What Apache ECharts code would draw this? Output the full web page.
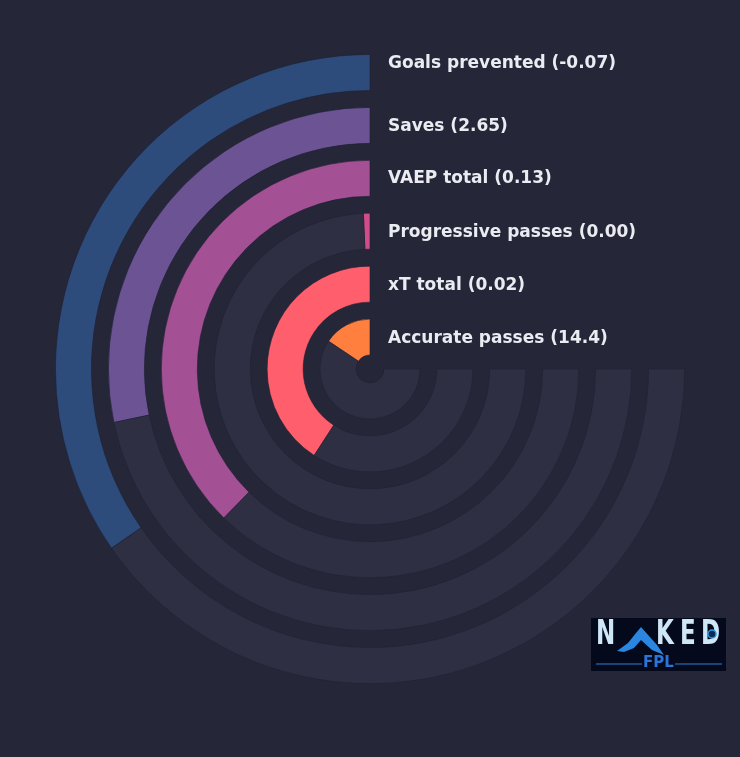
<!DOCTYPE html>
<html>
<head>
<meta charset="utf-8">
<script src="https://cdn.jsdelivr.net/npm/echarts@6/dist/echarts.min.js"></script>
<style>
html,body{margin:0;padding:0;background:#252638;}
#c{width:740px;height:757px;}
</style>
</head>
<body>
<div id="c"></div>
<script>
// categories from innermost ring to outermost ring
var categories = ['Accurate passes', 'xT total', 'Progressive passes', 'VAEP total', 'Saves', 'Goals prevented'];
var rawValues = ['14.4', '0.02', '0.00', '0.13', '2.65', '-0.07'];
// percentile-style ring fill (0-100, 100 = full 270° track)
var percentiles = [20.8, 54.5, 0.9, 50.2, 37.7, 46.2];
var colors = ['#ff7f3f', '#ff5f6d', '#d14d8a', '#a35095', '#6b5394', '#2d4c7c'];
var trackMax = 100;

var cx = 370, cy = 369;
var rInner = 5.5, rOuter = 323;
var band = (rOuter - rInner) / categories.length;
var labelOffsets = [1.5, 1.5, 1, 0.5, 1, -8.5];

var chart = echarts.init(document.getElementById('c'), null, {renderer: 'canvas'});

var filled = percentiles.map(function (v, i) {
  return {value: v, itemStyle: {color: colors[i]}};
});
var rest = percentiles.map(function (v) { return trackMax - v; });

var graphics = categories.map(function (c, i) {
  var rc = rInner + (i + 0.5) * band;
  return {
    type: 'text',
    x: 388,
    y: cy - rc + labelOffsets[i],
    style: {
      text: c + ' (' + rawValues[i] + ')',
      fill: '#ebebf2',
      font: 'bold 17px "DejaVu Sans", sans-serif',
      verticalAlign: 'middle',
      align: 'left'
    },
    z: 10
  };
});

// logo
var logoFont = 'bold 23px "DejaVu Sans", sans-serif';
graphics.push({
  type: 'rect', shape: {x: 591, y: 618, width: 135, height: 53},
  style: {fill: '#040a1c'}, z: 10
});
[['N', 596], ['K', 656], ['E', 680], ['D', 701]].forEach(function (l) {
  graphics.push({
    type: 'text', x: l[1], y: 619, scaleY: 1.45,
    style: {text: l[0], fill: '#cfe6f6', font: logoFont, verticalAlign: 'top'}, z: 11
  });
});
graphics.push({
  type: 'polygon',
  shape: {points: [[617, 651], [628, 643], [636, 633], [641, 627], [649, 636], [657, 645], [664, 655], [652, 650], [641, 640], [634, 648], [624, 652]]},
  style: {fill: '#2a86e0'}, z: 11
});
graphics.push({
  type: 'circle', shape: {cx: 712, cy: 634, r: 4},
  style: {fill: '#0d2a50', stroke: '#2a9be8', lineWidth: 1.5}, z: 12
});
graphics.push({
  type: 'line', shape: {x1: 596, y1: 664, x2: 642, y2: 664},
  style: {stroke: '#2c7fd8', lineWidth: 1}, z: 11
});
graphics.push({
  type: 'line', shape: {x1: 675, y1: 664, x2: 722, y2: 664},
  style: {stroke: '#2c7fd8', lineWidth: 1}, z: 11
});
graphics.push({
  type: 'text', x: 658.5, y: 663,
  style: {text: 'FPL', fill: '#2c74d8', font: 'bold 15px "DejaVu Sans", sans-serif', align: 'center', verticalAlign: 'middle'}, z: 11
});

var option = {
  backgroundColor: '#252638',
  animation: false,
  polar: {center: [cx, cy], radius: [rInner, rOuter]},
  angleAxis: {
    type: 'value', min: 0, max: trackMax * 360 / 270,
    startAngle: 90, clockwise: false,
    axisLine: {show: false}, axisTick: {show: false},
    axisLabel: {show: false}, splitLine: {show: false}
  },
  radiusAxis: {
    type: 'category', data: categories,
    axisLine: {show: false}, axisTick: {show: false},
    axisLabel: {show: false}, splitLine: {show: false}
  },
  series: [
    {
      type: 'bar', coordinateSystem: 'polar', stack: 'ring',
      data: filled, barWidth: 36,
      itemStyle: {borderColor: 'rgba(30,31,48,0.6)', borderWidth: 1}
    },
    {
      type: 'bar', coordinateSystem: 'polar', stack: 'ring',
      data: rest, barWidth: 36,
      itemStyle: {color: '#2e2f43', borderColor: 'rgba(30,31,48,0.4)', borderWidth: 1}
    }
  ],
  graphic: graphics
};
chart.setOption(option);
</script>
</body>
</html>
